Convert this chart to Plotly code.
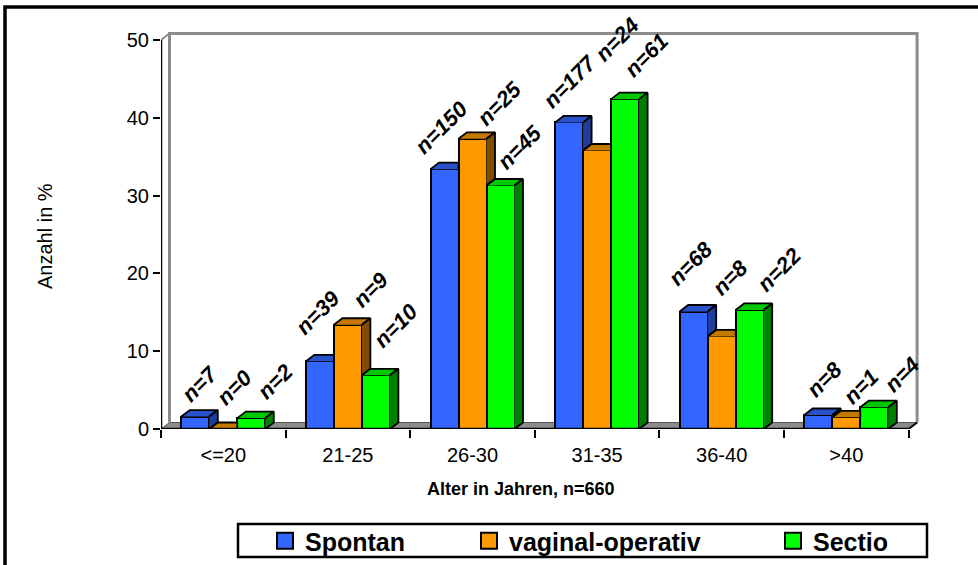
import plotly.graph_objects as go

# ---- data -------------------------------------------------------------
categories = ["<=20", "21-25", "26-30", "31-35", "36-40", ">40"]
series_names = ["Spontan", "vaginal-operativ", "Sectio"]

# share of each delivery mode per age group (percent)
spontan_pct = [1.6, 8.7, 33.4, 39.4, 15.1, 1.8]
vaginal_pct = [0.0, 13.4, 37.3, 35.8, 11.9, 1.5]
sectio_pct = [1.4, 6.9, 31.3, 42.4, 15.3, 2.8]

# case counts shown above the bars
spontan_n = [7, 39, 150, 177, 68, 8]
vaginal_n = [0, 9, 25, 24, 8, 1]
sectio_n = [2, 10, 45, 61, 22, 4]

y_tick_values = [0, 10, 20, 30, 40, 50]

# ---- styling ------------------------------------------------------------
FRONT = ["#3366FF", "#FF9900", "#00FF00"]
TOP = ["#2A52C8", "#C47800", "#00C800"]
SIDE = ["#1F3D99", "#7F4C00", "#008000"]
FONT = "Liberation Sans, Arial, sans-serif"

# count-label placement: per-series drift plus hand nudges (series, group) -> (dx, dy) px
LABEL_XSHIFT = [1, 14, 22]
LABEL_YSHIFT = 10
LABEL_NUDGE = {
    (0, 0): (4, -3), (0, 1): (-3, 9), (0, 2): (-4, -3),
    (0, 3): (0, -4), (0, 4): (-4, 8), (0, 5): (5, 0),
    (1, 0): (-3, 6), (1, 1): (9, 0), (1, 2): (13, -5),
    (1, 3): (6, 71), (1, 4): (-5, 23), (1, 5): (1, -5),
    (2, 0): (2, 1), (2, 1): (-2, 10), (2, 2): (-3, -2),
    (2, 3): (-1, 4), (2, 4): (8, 0), (2, 5): (6, -3),
}

W, H = 978, 565
M_L, M_R, M_T, M_B = 161, 56, 30, 136
PLOT_W = W - M_L - M_R
PLOT_H = H - M_T - M_B
PX_PER_CAT = 124.6
PX_PER_UNIT = 7.78
X_RANGE = [-0.5, -0.5 + PLOT_W / PX_PER_CAT]
Y_RANGE = [0, PLOT_H / PX_PER_UNIT]
Y_MAX = 50

BAR_W = 28 / PX_PER_CAT          # width of one bar in category units
DX = 8.5 / PX_PER_CAT            # depth of the 3-D extrusion, horizontal
DY = 6.5 / PX_PER_UNIT           # depth of the 3-D extrusion, vertical
X_LO, X_HI = -0.5, len(categories) - 0.5


def paper_x(px):
    return (px - M_L) / PLOT_W


def paper_y(py):
    return (H - M_B - py) / PLOT_H


values = [spontan_pct, vaginal_pct, sectio_pct]
counts = [spontan_n, vaginal_n, sectio_n]
positions = list(range(len(categories)))

fig = go.Figure()


def extrusion(vals, next_vals, k):
    """Top and side faces of each bar, trimmed where the next bar's front hides them."""
    tx, ty, sx, sy = [], [], [], []
    for i, v in enumerate(vals):
        x0 = i + (k - 1.5) * BAR_W
        x1 = x0 + BAR_W
        vn = next_vals[i] if next_vals is not None else 0.0
        if vn >= v + DY:
            # neighbour hides the whole right-hand corner of the top face
            tx += [x0, x0 + DX, x1, x1, None]
            ty += [v, v + DY, v + DY, v, None]
        else:
            c = max(vn, v)
            ex = x1 + (c - v) / DY * DX
            tx += [x0, x0 + DX, x1 + DX, ex, x1, x1, None]
            ty += [v, v + DY, v + DY, c, c, v, None]
        if v > vn:
            sx += [x1, x1 + DX, x1 + DX, x1, None]
            sy += [vn, vn + DY, v + DY, v, None]
    return tx, ty, sx, sy


for k, (name, vals) in enumerate(zip(series_names, values)):
    fig.add_trace(go.Bar(
        x=positions, y=vals, width=BAR_W, offset=(k - 1.5) * BAR_W,
        marker=dict(color=FRONT[k], line=dict(color="black", width=2)),
        name=name, showlegend=False, hoverinfo="skip",
    ))

for k, vals in enumerate(values):
    nxt = values[k + 1] if k + 1 < len(values) else None
    tx, ty, sx, sy = extrusion(vals, nxt, k)
    fig.add_trace(go.Scatter(
        x=tx, y=ty, mode="lines", fill="toself", fillcolor=TOP[k],
        line=dict(color="black", width=1.8), showlegend=False, hoverinfo="skip",
    ))
    if sx:
        fig.add_trace(go.Scatter(
            x=sx, y=sy, mode="lines", fill="toself", fillcolor=SIDE[k],
            line=dict(color="black", width=1.8), showlegend=False, hoverinfo="skip",
        ))

# legend entries (one legend per entry so they can be spaced freely)
legend_ids = ["legend", "legend2", "legend3"]
legend_px = [265, 469, 773]
for k, name in enumerate(series_names):
    fig.add_trace(go.Scatter(
        x=[None], y=[None], mode="markers", name=name, legend=legend_ids[k],
        marker=dict(symbol="square", size=16, color=FRONT[k],
                    line=dict(color="black", width=2)),
    ))

# count labels above the bars
annotations = []
for k, (vals, ns) in enumerate(zip(values, counts)):
    for i, (v, n) in enumerate(zip(vals, ns)):
        ndx, ndy = LABEL_NUDGE.get((k, i), (0, 0))
        annotations.append(dict(
            x=i + (k - 1) * BAR_W, y=v, xref="x", yref="y",
            text=f"n={n}", showarrow=False, textangle=-45,
            xanchor="center", yanchor="bottom",
            xshift=LABEL_XSHIFT[k] + ndx, yshift=LABEL_YSHIFT + ndy,
            font=dict(family=FONT, size=22, color="black",
                      weight="bold", style="italic"),
        ))

annotations.append(dict(
    x=paper_x(521), y=paper_y(489), xref="paper", yref="paper",
    text="Alter in Jahren, n=660", showarrow=False,
    xanchor="center", yanchor="middle",
    font=dict(family=FONT, size=18, color="black", weight="bold"),
))
annotations.append(dict(
    x=paper_x(45), y=paper_y(236), xref="paper", yref="paper",
    text="Anzahl in %", showarrow=False, textangle=-90,
    xanchor="center", yanchor="middle",
    font=dict(family=FONT, size=20, color="black"),
))

GRAY = "#8C8C8C"
shapes = [
    # floor
    dict(type="path", xref="x", yref="y", layer="below",
         path=f"M{X_LO},0 L{X_LO + DX},{DY} L{X_HI + DX},{DY} L{X_HI},0 Z",
         fillcolor=GRAY, line=dict(color="#555555", width=1)),
    # back wall outline
    dict(type="path", xref="x", yref="y", layer="below",
         path=(f"M{X_LO + DX},{DY} L{X_LO + DX},{Y_MAX + DY} "
               f"L{X_HI + DX},{Y_MAX + DY} L{X_HI + DX},{DY}"),
         line=dict(color=GRAY, width=3)),
    # side wall top edge
    dict(type="line", xref="x", yref="y", layer="below",
         x0=X_LO, y0=Y_MAX, x1=X_LO + DX, y1=Y_MAX + DY,
         line=dict(color=GRAY, width=2)),
    # floor right edge
    dict(type="line", xref="x", yref="y", layer="below",
         x0=X_HI, y0=0, x1=X_HI + DX, y1=DY,
         line=dict(color="black", width=2)),
    # value axis
    dict(type="line", xref="x", yref="y", layer="above",
         x0=X_LO, y0=0, x1=X_LO, y1=Y_MAX,
         line=dict(color="black", width=2.5)),
    # category axis
    dict(type="line", xref="x", yref="y", layer="above",
         x0=X_LO, y0=0, x1=X_HI, y1=0,
         line=dict(color="black", width=2.5)),
    # legend box
    dict(type="rect", xref="paper", yref="paper", layer="above",
         x0=paper_x(238), y0=paper_y(557), x1=paper_x(927), y1=paper_y(524),
         fillcolor="white", line=dict(color="black", width=2.5)),
    # chart frame
    dict(type="rect", xref="paper", yref="paper", layer="above",
         x0=paper_x(5), y0=paper_y(590), x1=paper_x(1000), y1=paper_y(7),
         line=dict(color="black", width=3.5)),
]

legend_common = dict(
    orientation="h", xanchor="left", yanchor="middle", y=paper_y(541),
    bgcolor="rgba(0,0,0,0)", borderwidth=0, itemsizing="trace",
    font=dict(family=FONT, size=25, color="black", weight="bold"),
)

fig.update_layout(
    width=W, height=H, autosize=False,
    margin=dict(l=M_L, r=M_R, t=M_T, b=M_B, pad=0, autoexpand=False),
    paper_bgcolor="white", plot_bgcolor="white",
    barmode="overlay", bargap=0,
    font=dict(family=FONT, color="black"),
    showlegend=True,
    legend=dict(x=paper_x(legend_px[0]), **legend_common),
    legend2=dict(x=paper_x(legend_px[1]), **legend_common),
    legend3=dict(x=paper_x(legend_px[2]), **legend_common),
    xaxis=dict(
        range=X_RANGE, showgrid=False, zeroline=False, showline=False,
        tickmode="array", tickvals=positions, ticktext=categories,
        ticks="", ticklabelstandoff=12, automargin=False,
        tickfont=dict(family=FONT, size=20, color="black"),
        minor=dict(tickmode="linear", tick0=-0.5, dtick=1, ticks="outside",
                   ticklen=8, tickwidth=2, tickcolor="black", showgrid=False),
        fixedrange=True,
    ),
    yaxis=dict(
        range=Y_RANGE, showgrid=False, zeroline=False, showline=False,
        tickmode="array", tickvals=y_tick_values, automargin=False,
        ticks="outside", ticklen=7, tickwidth=2, tickcolor="black",
        tickfont=dict(family=FONT, size=20, color="black"),
        fixedrange=True,
    ),
    shapes=shapes,
    annotations=annotations,
)

fig.write_html("out.html")
